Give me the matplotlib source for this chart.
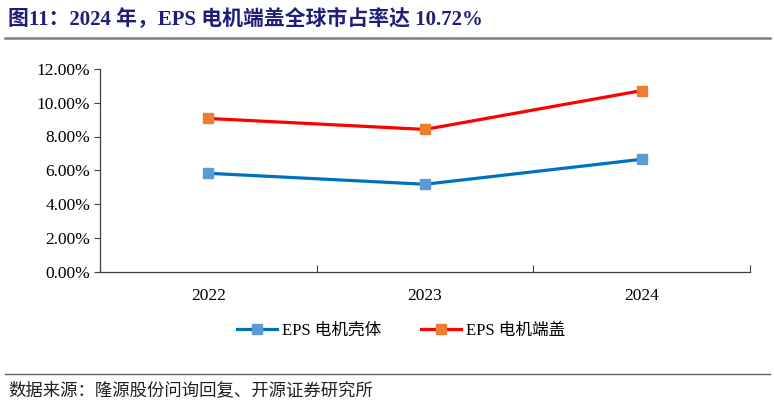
import matplotlib
matplotlib.use("Agg")
import matplotlib.pyplot as plt
from matplotlib.lines import Line2D
from matplotlib.ticker import FuncFormatter, FixedLocator

plt.rcParams['font.family'] = ['Liberation Serif', 'Noto Sans CJK SC', 'DejaVu Sans']

years = ["2022", "2023", "2024"]
housing = [5.82, 5.17, 6.65]     # EPS 电机壳体 (%)
endcap = [9.07, 8.42, 10.72]     # EPS 电机端盖 (%)
series_names = ["EPS 电机壳体", "EPS 电机端盖"]
title = "图11：2024 年，EPS 电机端盖全球市占率达 10.72%"
source = "数据来源：隆源股份问询回复、开源证券研究所"

W, H = 774, 405
fig = plt.figure(figsize=(W / 100, H / 100), dpi=100)

ax = fig.add_axes([100 / W, 1 - 271.5 / H, 650 / W, (271.5 - 69) / H])
x = [i + 0.5 for i in range(len(years))]
ax.plot(x, housing, color="#0070C0", lw=2.3, marker="s", ms=7.5,
        mfc="#5B9BD5", mec="#5B9BD5", label=series_names[0], zorder=3)
ax.plot(x, endcap, color="#FF0000", lw=2.3, marker="s", ms=7.5,
        mfc="#ED7D31", mec="#ED7D31", label=series_names[1], zorder=3)

ax.set_xlim(0, len(years))
ax.set_ylim(0, 12)
ax.set_yticks([0, 2, 4, 6, 8, 10, 12])
ax.yaxis.set_major_formatter(FuncFormatter(lambda v, p: f"{v:.2f}%"))
ax.xaxis.set_major_locator(FixedLocator([0, 1, 2, 3]))
ax.set_xticklabels([])
ax.set_xticks(x, minor=True)
ax.set_xticklabels(years, minor=True)
ax.tick_params(axis="x", which="major", direction="in", length=5, width=0.8, color="#404040")
ax.tick_params(axis="x", which="minor", length=0, pad=12, labelsize=12.5)
ax.tick_params(axis="y", direction="out", length=4, width=0.8, color="#404040", labelsize=12.5, pad=3)
for s in ["top", "right"]:
    ax.spines[s].set_visible(False)
for s in ["left", "bottom"]:
    ax.spines[s].set_color("#404040")
    ax.spines[s].set_linewidth(0.9)

leg = fig.legend(loc="center", bbox_to_anchor=(401 / W, 1 - 331 / H), ncol=2,
                 frameon=False, fontsize=12, handlelength=2.4, columnspacing=2.4,
                 handletextpad=0.3)

fig.text(8 / W, 1 - 19 / H, title, fontsize=15, fontweight="bold", color="#1F1F78",
         va="center", ha="left")
fig.add_artist(Line2D([5 / W, 770 / W], [1 - 37.5 / H] * 2, color="#808080", lw=1.8))
fig.add_artist(Line2D([5 / W, 770 / W], [1 - 374 / H] * 2, color="#606060", lw=1.0))
fig.text(8 / W, 1 - 390 / H, source, fontsize=12.5, color="#202020", va="center", ha="left",
         family=['Noto Sans CJK SC', 'DejaVu Sans'])

fig.savefig("out.png", dpi=100)
